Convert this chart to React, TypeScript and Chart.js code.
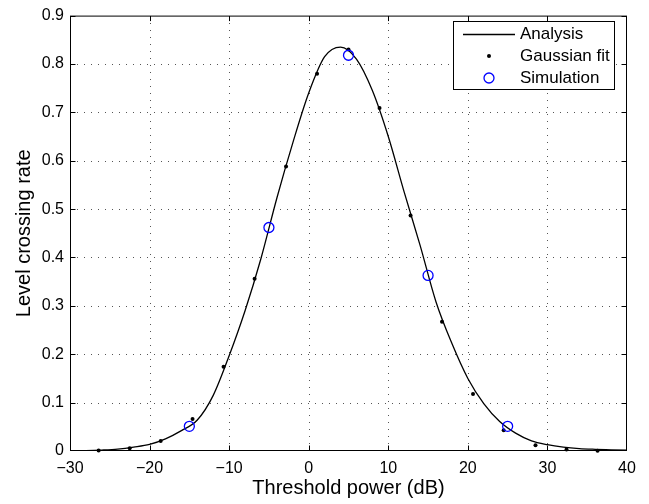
import { useEffect, useRef } from "react";
import { Chart, registerables } from "chart.js";

Chart.register(...registerables);

// Axis ticks
const xTickValues = [-30, -20, -10, 0, 10, 20, 30, 40];
const yTickValues = [0, 0.1, 0.2, 0.3, 0.4, 0.5, 0.6, 0.7, 0.8, 0.9];

// Analysis (solid curve)
const analysisX = [-30, -28, -26, -24, -22, -20, -18, -16, -14, -12, -10, -8, -6, -4, -2, 0, 2, 4, 6, 8, 10, 12, 14, 16, 18, 20, 22, 24, 26, 28, 30, 32, 34, 36, 38, 40];
const analysisY = [0.0003, 0.0008, 0.002, 0.004, 0.008, 0.0135, 0.025, 0.042, 0.064, 0.115, 0.197, 0.29, 0.398, 0.523, 0.637, 0.74, 0.815, 0.835, 0.81, 0.745, 0.65, 0.535, 0.425, 0.308, 0.222, 0.15, 0.098, 0.061, 0.037, 0.021, 0.013, 0.008, 0.005, 0.0035, 0.0025, 0.0015];

// Gaussian fit (black dots)
const gaussX = [-26.4, -22.5, -18.6, -14.6, -10.7, -6.8, -2.85, 1.05, 5.0, 8.9, 12.8, 16.75, 20.65, 24.5, 28.5, 32.4, 36.3];
const gaussY = [0.001, 0.0055, 0.0205, 0.066, 0.174, 0.356, 0.588, 0.78, 0.83, 0.709, 0.487, 0.267, 0.118, 0.043, 0.0117, 0.003, 0.0005];

// Simulation (blue circles)
const simX = [-15, -5, 5, 15, 25];
const simY = [0.051, 0.462, 0.818, 0.363, 0.051];

const legendLabels = ["Analysis", "Gaussian fit", "Simulation"];

const FONT = "'Liberation Sans', Arial, Helvetica, sans-serif";

const pts = (xs: number[], ys: number[]) => xs.map((x, i) => ({ x, y: ys[i] }));

const framePlugin = {
  id: "matlabFrame",
  beforeDatasetsDraw(chart: any) {
    const { ctx, chartArea: a, scales } = chart;
    const x = scales.x;
    const y = scales.y;
    ctx.save();
    ctx.strokeStyle = "#555";
    ctx.lineWidth = 1;
    ctx.setLineDash([1, 6]);
    xTickValues.slice(1, -1).forEach((v) => {
      const px = Math.round(x.getPixelForValue(v)) + 0.5;
      ctx.beginPath();
      ctx.moveTo(px, a.bottom);
      ctx.lineTo(px, a.top);
      ctx.stroke();
    });
    yTickValues.slice(1, -1).forEach((v) => {
      const py = Math.round(y.getPixelForValue(v)) + 0.5;
      ctx.beginPath();
      ctx.moveTo(a.left, py);
      ctx.lineTo(a.right, py);
      ctx.stroke();
    });
    ctx.restore();
  },
  afterDatasetsDraw(chart: any) {
    const { ctx, chartArea: a, scales } = chart;
    const x = scales.x;
    const y = scales.y;
    const L = a.left + 0.5, R = a.right - 0.5, T = a.top + 0.5, B = a.bottom - 0.5;
    ctx.save();
    ctx.setLineDash([]);
    ctx.strokeStyle = "#000";
    ctx.lineWidth = 1;
    ctx.strokeRect(L, T, R - L, B - T);
    const tl = 5;
    ctx.beginPath();
    xTickValues.forEach((v) => {
      const px = Math.min(R, Math.max(L, Math.round(x.getPixelForValue(v)) + 0.5));
      ctx.moveTo(px, B);
      ctx.lineTo(px, B - tl);
      ctx.moveTo(px, T);
      ctx.lineTo(px, T + tl);
    });
    yTickValues.forEach((v) => {
      const py = Math.min(B, Math.max(T, Math.round(y.getPixelForValue(v)) + 0.5));
      ctx.moveTo(L, py);
      ctx.lineTo(L + tl, py);
      ctx.moveTo(R, py);
      ctx.lineTo(R - tl, py);
    });
    ctx.stroke();

    // Legend
    const bx = 453.5, by = 21.5, bw = 161, bh = 68;
    ctx.fillStyle = "#fff";
    ctx.fillRect(bx, by, bw, bh);
    ctx.strokeRect(bx, by, bw, bh);
    const rows = [34, 56, 78];
    ctx.beginPath();
    ctx.moveTo(463, rows[0] + 0.5);
    ctx.lineTo(515, rows[0] + 0.5);
    ctx.lineWidth = 1.3;
    ctx.stroke();
    ctx.fillStyle = "#000";
    ctx.beginPath();
    ctx.arc(489, rows[1], 2, 0, Math.PI * 2);
    ctx.fill();
    ctx.strokeStyle = "#0000ff";
    ctx.lineWidth = 1.3;
    ctx.beginPath();
    ctx.arc(489, rows[2], 5, 0, Math.PI * 2);
    ctx.stroke();
    ctx.fillStyle = "#000";
    ctx.font = `17px ${FONT}`;
    ctx.textBaseline = "middle";
    ctx.textAlign = "left";
    legendLabels.forEach((t, i) => ctx.fillText(t, 520, rows[i]));
    ctx.restore();
  },
};

export default function App() {
  const ref = useRef<HTMLCanvasElement | null>(null);
  useEffect(() => {
    if (!ref.current) return;
    const chart = new Chart(ref.current, {
      type: "scatter",
      data: {
        datasets: [
          {
            label: legendLabels[2],
            data: pts(simX, simY),
            showLine: false,
            pointRadius: 5,
            pointBorderWidth: 1.3,
            pointBorderColor: "#0000ff",
            pointBackgroundColor: "rgba(0,0,0,0)",
            order: 0,
            clip: false,
          } as any,
          {
            label: legendLabels[1],
            data: pts(gaussX, gaussY),
            showLine: false,
            pointRadius: 2,
            pointBorderWidth: 0,
            pointBackgroundColor: "#000",
            pointBorderColor: "#000",
            order: 1,
            clip: false,
          },
          {
            label: legendLabels[0],
            data: pts(analysisX, analysisY),
            showLine: true,
            pointRadius: 0,
            borderColor: "#000",
            borderWidth: 1.3,
            cubicInterpolationMode: "monotone",
            order: 2,
          },
        ],
      },
      options: {
        animation: false,
        responsive: true,
        maintainAspectRatio: false,
        layout: { padding: { top: 12, right: 22, left: 0, bottom: 0 } },
        plugins: { legend: { display: false }, tooltip: { enabled: false } },
        scales: {
          x: {
            type: "linear",
            min: -30,
            max: 40,
            afterFit: (s: any) => {
              s.height = 53;
            },
            afterBuildTicks: (s: any) => {
              s.ticks = xTickValues.map((v) => ({ value: v }));
            },
            grid: { display: false, drawTicks: false },
            border: { display: false },
            ticks: {
              color: "#000",
              padding: 8,
              maxRotation: 0,
              font: { family: FONT, size: 16 },
              callback: (v: any) => (Number(v) < 0 ? "\u2212" + Math.abs(Number(v)) : String(v)),
            },
            title: {
              display: true,
              text: "Threshold power (dB)",
              color: "#000",
              font: { family: FONT, size: 20 },
              padding: { top: 0, bottom: 4 },
            },
          },
          y: {
            type: "linear",
            min: 0,
            max: 0.9,
            afterFit: (s: any) => {
              s.width = 70;
            },
            afterBuildTicks: (s: any) => {
              s.ticks = yTickValues.map((v) => ({ value: v }));
            },
            grid: { display: false, drawTicks: false },
            border: { display: false },
            ticks: {
              color: "#000",
              padding: 6,
              font: { family: FONT, size: 16 },
              callback: (v: any) => {
                const n = Math.round(Number(v) * 10) / 10;
                return n === 0 ? "0" : n.toFixed(1);
              },
            },
            title: {
              display: true,
              text: "Level crossing rate",
              color: "#000",
              font: { family: FONT, size: 20 },
              padding: { top: 12, bottom: 0 },
            },
          },
        },
      },
      plugins: [framePlugin],
    });
    return () => chart.destroy();
  }, []);
  return (
    <div style={{ position: "absolute", left: 0, top: 0, width: 649, height: 504, background: "#fff" }}>
      <canvas ref={ref} />
    </div>
  );
}
